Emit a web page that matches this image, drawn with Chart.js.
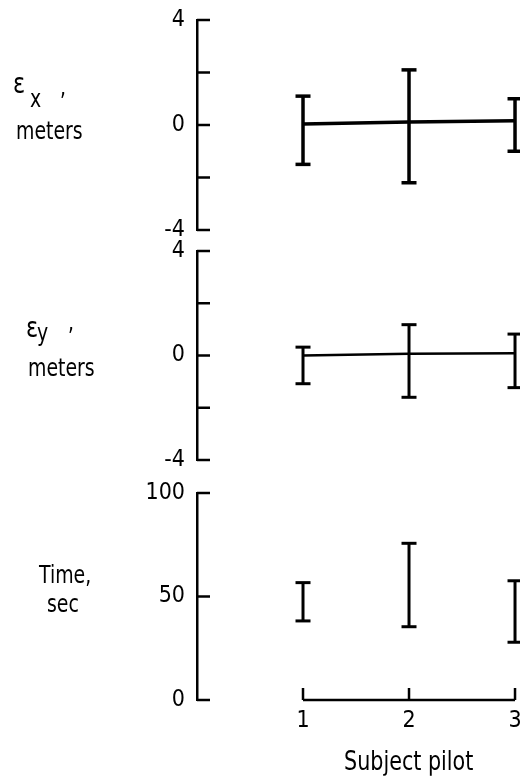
<!DOCTYPE html>
<html>
<head>
<meta charset="utf-8">
<script src="https://cdn.jsdelivr.net/npm/chart.js@4.4.1/dist/chart.umd.min.js"></script>
<style>
body { margin: 0; background: #fff; }
#wrap { position: relative; width: 520px; height: 776px; overflow: hidden; }
canvas { position: absolute; left: 0; top: 0; }
.lbl { position: absolute; font-family: 'DejaVu Sans Condensed', 'DejaVu Sans', sans-serif;
       font-size: 21px; line-height: 1; white-space: pre; color: #000;
       transform-origin: 0 85%; transform: scaleY(1.15); }
.eps { font-size: 25px; }
</style>
</head>
<body>
<div id="wrap">
  <canvas id="ex" width="520" height="776"></canvas>
  <canvas id="ey" width="520" height="776"></canvas>
  <canvas id="tm" width="520" height="776"></canvas>

  <div class="lbl eps" style="left:13px;top:72px">ε</div>
  <div class="lbl" style="left:30px;top:90px">x</div>
  <div class="lbl" style="left:60px;top:78px">,</div>
  <div class="lbl" style="left:16px;top:122px">meters</div>

  <div class="lbl eps" style="left:26px;top:316px">ε</div>
  <div class="lbl" style="left:37px;top:324px">y</div>
  <div class="lbl" style="left:68px;top:313px">,</div>
  <div class="lbl" style="left:28px;top:359px">meters</div>

  <div class="lbl" style="left:39px;top:566px">Time,</div>
  <div class="lbl" style="left:47px;top:595px">sec</div>

  <div class="lbl" style="left:344px;top:751px;font-size:23px">Subject pilot</div>
</div>

<script>
// data
const pilots = [1, 2, 3];
const exMean = [0.04, 0.11, 0.16];
const exHigh = [1.1, 2.1, 1.0];
const exLow = [-1.5, -2.2, -1.0];
const eyMean = [0.0, 0.07, 0.09];
const eyHigh = [0.32, 1.18, 0.82];
const eyLow = [-1.08, -1.6, -1.23];
const timeHigh = [56.7, 75.7, 57.6];
const timeLow = [38.2, 35.4, 27.9];
const exLabels = [-4, 0, 4];
const eyLabels = [-4, 0, 4];
const timeLabels = [0, 50, 100];

Chart.defaults.font.family = "'DejaVu Sans Condensed', 'DejaVu Sans', sans-serif";
Chart.defaults.font.size = 23;
Chart.defaults.color = '#000';

// one little dataset per error bar, caps are 'line' points
function bars(high, low, w) {
  return pilots.map((p, i) => ({
    data: [{x: p, y: low[i]}, {x: p, y: high[i]}],
    borderColor: '#000', borderWidth: w,
    pointStyle: 'line', pointRadius: 7.5, pointHoverRadius: 7.5,
    pointBorderWidth: w, pointBorderColor: '#000'
  }));
}

function meanLine(mean, w) {
  return {
    data: pilots.map((p, i) => ({x: p, y: mean[i]})),
    borderColor: '#000', borderWidth: w, pointRadius: 0
  };
}

/* ticks pointing into the plot, plus the short x axis */
const marks = {
  id: 'marks',
  afterDraw(chart) {
    const ctx = chart.ctx, a = chart.chartArea, ys = chart.scales.y, xs = chart.scales.x;
    ctx.save();
    ctx.strokeStyle = '#000';
    ctx.lineWidth = 2.5;
    ys.ticks.forEach(t => {
      const py = ys.getPixelForValue(t.value);
      ctx.beginPath(); ctx.moveTo(a.left, py); ctx.lineTo(a.left + 13, py); ctx.stroke();
    });
    if (xs.options.display) {
      const x0 = xs.getPixelForValue(pilots[0]);
      const x1 = xs.getPixelForValue(pilots[pilots.length - 1]);
      ctx.beginPath(); ctx.moveTo(x0, a.bottom); ctx.lineTo(x1, a.bottom); ctx.stroke();
      pilots.forEach(p => {
        const px = xs.getPixelForValue(p);
        ctx.beginPath(); ctx.moveTo(px, a.bottom); ctx.lineTo(px, a.bottom - 12); ctx.stroke();
      });
    }
    ctx.restore();
  }
};

function makeChart(id, datasets, yMin, yMax, step, shown, padTop, padBottom, showX) {
  return new Chart(document.getElementById(id), {
    type: 'line',
    data: { datasets: datasets },
    options: {
      responsive: false,
      animation: false,
      events: [],
      layout: { autoPadding: false, padding: { left: 0, right: 0, top: padTop, bottom: padBottom } },
      plugins: { legend: { display: false }, tooltip: { enabled: false } },
      scales: {
        x: {
          type: 'linear', min: 0, max: 3.047, display: showX,
          grid: { display: false }, border: { display: false },
          ticks: { padding: -1 },
          afterBuildTicks: s => { s.ticks = pilots.map(v => ({ value: v })); },
          afterFit: s => { if (showX) s.height = 76; s.paddingLeft = 0; s.paddingRight = 0; }
        },
        y: {
          min: yMin, max: yMax,
          grid: { display: false },
          border: { display: true, color: '#000', width: 2.5 },
          ticks: { stepSize: step, padding: 4, autoSkip: false,
                   callback: v => shown.includes(v) ? String(v) : '' },
          afterFit: s => { s.width = 197; s.paddingTop = 0; s.paddingBottom = 0; }
        }
      }
    },
    plugins: [marks]
  });
}

makeChart('ex', [meanLine(exMean, 3.5)].concat(bars(exHigh, exLow, 3.5)), -4, 4, 2, exLabels, 20, 546, false);
makeChart('ey', [meanLine(eyMean, 2.5)].concat(bars(eyHigh, eyLow, 3)), -4, 4, 2, eyLabels, 251, 316, false);
makeChart('tm', bars(timeHigh, timeLow, 3), 0, 100, 50, timeLabels, 493, 0, true);
</script>
</body>
</html>
